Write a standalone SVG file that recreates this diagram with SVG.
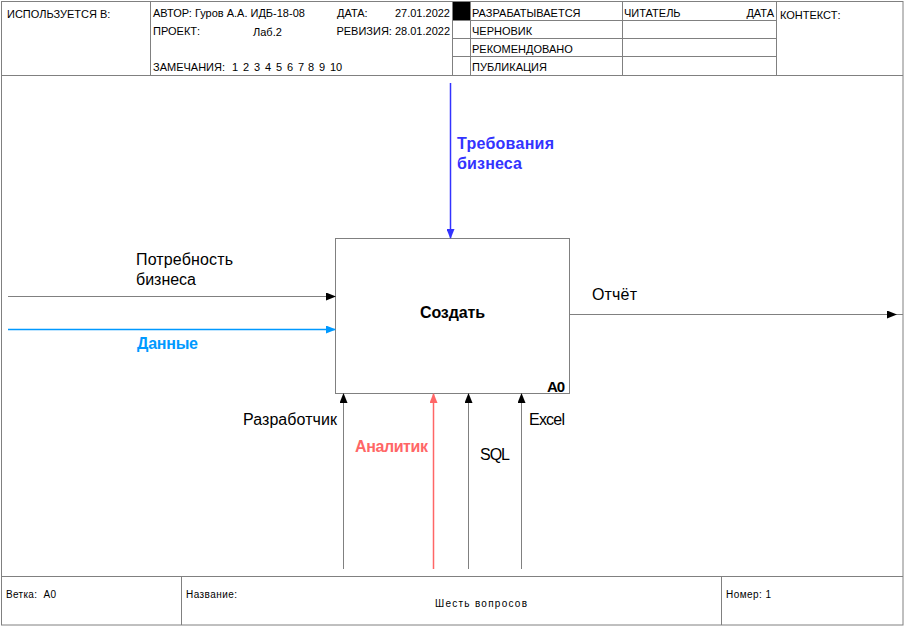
<svg xmlns="http://www.w3.org/2000/svg" width="904" height="626" viewBox="0 0 904 626">
<defs>
<style>
.f{fill:none;stroke:#808080;stroke-width:1}
.h{font-family:"Liberation Sans",Arial,sans-serif;font-size:11px;fill:#000}
.ft{font-family:"Liberation Sans",Arial,sans-serif;font-size:10px;fill:#000}
.l{font-family:"Liberation Sans",Arial,sans-serif;font-size:16px;fill:#000}
.b{font-family:"Liberation Sans",Arial,sans-serif;font-size:16px;font-weight:bold}
.c{fill:none;stroke:#808080;stroke-width:1}
</style>
<marker id="ak" markerWidth="10" markerHeight="8" refX="9" refY="4" orient="auto" markerUnits="userSpaceOnUse"><path d="M0,0 L10,4 L0,8 z" fill="#000"/></marker>
<marker id="ab" markerWidth="10" markerHeight="8" refX="9" refY="4" orient="auto" markerUnits="userSpaceOnUse"><path d="M0,0 L10,4 L0,8 z" fill="#3333ff"/></marker>
<marker id="al" markerWidth="10" markerHeight="8" refX="9" refY="4" orient="auto" markerUnits="userSpaceOnUse"><path d="M0,0 L10,4 L0,8 z" fill="#0099ff"/></marker>
<marker id="ar" markerWidth="10" markerHeight="8" refX="9" refY="4" orient="auto" markerUnits="userSpaceOnUse"><path d="M0,0 L10,4 L0,8 z" fill="#ff6666"/></marker>
</defs>
<rect width="904" height="626" fill="#fff"/>
<g id="frame">
<rect class="f" x="1.5" y="1.5" width="901.5" height="623.5"/>
<line class="f" x1="1.5" y1="75.5" x2="903" y2="75.5"/>
<line class="f" x1="1.5" y1="576.5" x2="903" y2="576.5"/>
<line class="f" x1="150.5" y1="1.5" x2="150.5" y2="75.5"/>
<line class="f" x1="452.5" y1="1.5" x2="452.5" y2="75.5"/>
<line class="f" x1="470.5" y1="1.5" x2="470.5" y2="75.5"/>
<line class="f" x1="622.5" y1="1.5" x2="622.5" y2="75.5"/>
<line class="f" x1="776.5" y1="1.5" x2="776.5" y2="75.5"/>
<line class="f" x1="452.5" y1="20.5" x2="776.5" y2="20.5"/>
<line class="f" x1="452.5" y1="38.5" x2="776.5" y2="38.5"/>
<line class="f" x1="452.5" y1="56.5" x2="776.5" y2="56.5"/>
<rect x="453" y="2" width="17" height="18" fill="#000"/>
<line class="f" x1="181.5" y1="576.5" x2="181.5" y2="625"/>
<line class="f" x1="721.5" y1="576.5" x2="721.5" y2="625"/>
<text class="h" x="7" y="18">ИСПОЛЬЗУЕТСЯ В:</text>
<text class="h" x="153" y="17">АВТОР: Гуров А.А. ИДБ-18-08</text>
<text class="h" x="337" y="17">ДАТА:</text>
<text class="h" x="450" y="17" text-anchor="end">27.01.2022</text>
<text class="h" x="153" y="35">ПРОЕКТ:</text>
<text class="h" x="253" y="36">Лаб.2</text>
<text class="h" x="450" y="35" text-anchor="end">РЕВИЗИЯ: 28.01.2022</text>
<text class="h" x="153" y="71">ЗАМЕЧАНИЯ:</text>
<text class="h" y="71"><tspan x="232">1</tspan><tspan x="243">2</tspan><tspan x="254">3</tspan><tspan x="265">4</tspan><tspan x="276">5</tspan><tspan x="287">6</tspan><tspan x="298">7</tspan><tspan x="308">8</tspan><tspan x="319">9</tspan><tspan x="330">10</tspan></text>
<text class="h" x="472" y="17">РАЗРАБАТЫВАЕТСЯ</text>
<text class="h" x="472" y="35">ЧЕРНОВИК</text>
<text class="h" x="472" y="53">РЕКОМЕНДОВАНО</text>
<text class="h" x="472" y="71">ПУБЛИКАЦИЯ</text>
<text class="h" x="624" y="17">ЧИТАТЕЛЬ</text>
<text class="h" x="774" y="17" text-anchor="end">ДАТА</text>
<text class="h" x="780" y="19">КОНТЕКСТ:</text>
<text class="ft" x="6" y="598" xml:space="preserve" textLength="50">Ветка:  A0</text>
<text class="ft" x="186" y="598" textLength="51">Название:</text>
<text class="ft" x="435" y="607" textLength="92">Шесть вопросов</text>
<text class="ft" x="726" y="598" textLength="45">Номер: 1</text>
</g>
<g id="node-A0">
<rect class="f" x="335.5" y="238.5" width="234" height="155" fill="#fff"/>
<text class="b" x="420" y="318" textLength="65" fill="#000">Создать</text>
<text class="b" x="547" y="392" textLength="18" style="font-size:15px" fill="#000">A0</text>
</g>
<g id="connectors">
<line x1="450.5" y1="83" x2="450.5" y2="238" stroke="#3333ff" stroke-width="1.5" marker-end="url(#ab)"/>
<line class="c" x1="8" y1="296.5" x2="335" y2="296.5" marker-end="url(#ak)"/>
<line x1="8" y1="329.5" x2="335" y2="329.5" stroke="#0099ff" stroke-width="1.5" marker-end="url(#al)"/>
<line class="c" x1="570" y1="314.5" x2="903" y2="314.5"/>
<line x1="885" y1="314.5" x2="896" y2="314.5" stroke="none" marker-end="url(#ak)"/>
<line class="c" x1="343.5" y1="569" x2="343.5" y2="394" marker-end="url(#ak)"/>
<line x1="433.5" y1="569" x2="433.5" y2="394" stroke="#ff6666" stroke-width="1.5" marker-end="url(#ar)"/>
<line class="c" x1="468.5" y1="569" x2="468.5" y2="394" marker-end="url(#ak)"/>
<line class="c" x1="521.5" y1="569" x2="521.5" y2="394" marker-end="url(#ak)"/>
<text class="b" x="457" y="149" textLength="97" fill="#3333ff">Требования</text>
<text class="b" x="457" y="169" textLength="65" fill="#3333ff">бизнеса</text>
<text class="l" x="136" y="265" textLength="97">Потребность</text>
<text class="l" x="136" y="285" textLength="60">бизнеса</text>
<text class="b" x="137" y="349" textLength="61" fill="#0099ff">Данные</text>
<text class="l" x="592" y="300" textLength="45">Отчёт</text>
<text class="l" x="243" y="425" textLength="94">Разработчик</text>
<text class="b" x="355" y="452" textLength="73" fill="#ff6666">Аналитик</text>
<text class="l" x="480" y="460" textLength="30">SQL</text>
<text class="l" x="529" y="425" textLength="36">Excel</text>
</g>
</svg>
